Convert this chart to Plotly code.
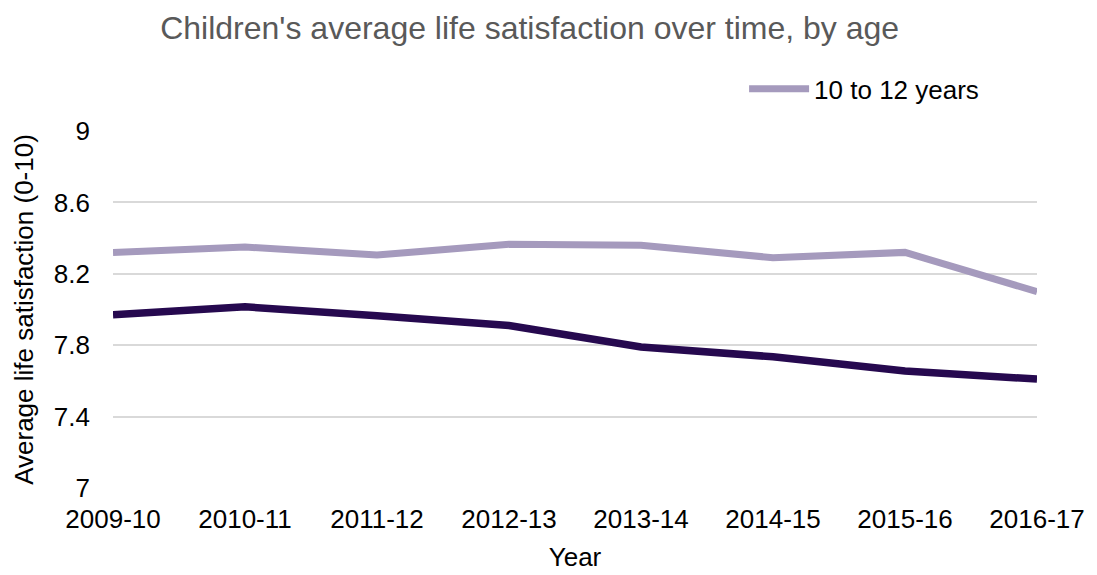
import plotly.graph_objects as go

years = ["2009-10", "2010-11", "2011-12", "2012-13", "2013-14", "2014-15", "2015-16", "2016-17"]
age_10_12 = [8.32, 8.35, 8.305, 8.365, 8.36, 8.29, 8.32, 8.10]
age_13_15 = [7.97, 8.015, 7.965, 7.91, 7.79, 7.735, 7.655, 7.61]
y_ticks = [7, 7.4, 7.8, 8.2, 8.6, 9]

fig = go.Figure()
fig.add_trace(go.Scatter(x=years, y=age_13_15, mode="lines", name="13 to 15 years",
                         line=dict(color="#26094F", width=7.5), showlegend=False))
fig.add_trace(go.Scatter(x=years, y=age_10_12, mode="lines", name="10 to 12 years",
                         line=dict(color="#A59ABD", width=7)))

fig.update_layout(
    width=1089, height=567,
    paper_bgcolor="white", plot_bgcolor="white",
    margin=dict(l=105, r=60, t=123, b=87, autoexpand=False),
    font=dict(family="Liberation Sans, Arial, sans-serif", size=26, color="#000000"),
    title=dict(text="Children's average life satisfaction over time, by age",
               x=0.479, xanchor="center", y=0.965, yanchor="middle",
               font=dict(size=32, color="#595959")),
    legend=dict(x=0.683, y=1.118, xanchor="left", yanchor="middle",
                bgcolor="rgba(0,0,0,0)", font=dict(size=26), itemwidth=60),
    xaxis=dict(type="category", range=[0, 7], showgrid=False, zeroline=False,
               showline=False, ticks="", ticklabelstandoff=13,
               title=dict(text="Year", standoff=14, font=dict(size=26))),
    yaxis=dict(range=[7, 9], tickvals=y_ticks, ticktext=[f"{v:g}" for v in y_ticks],
               showgrid=True, gridcolor="#D9D9D9", gridwidth=2, zeroline=False,
               showline=False, ticks="", ticklabelstandoff=22,
               title=dict(text="Average life satisfaction (0-10)", standoff=12, font=dict(size=26))),
)

fig.write_html("out.html")
